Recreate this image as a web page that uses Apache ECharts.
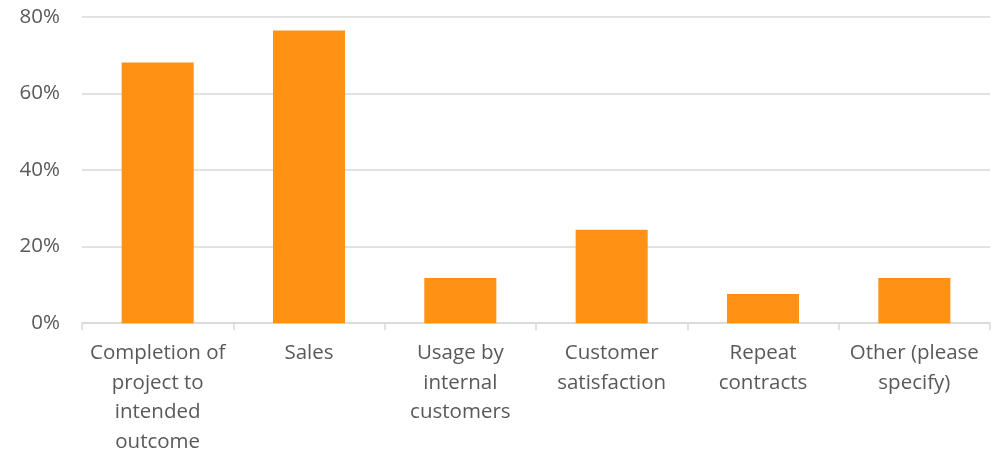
<!DOCTYPE html>
<html>
<head>
<meta charset="utf-8">
<script src="https://cdn.jsdelivr.net/npm/echarts@6/dist/echarts.min.js"></script>
<style>
  html, body { margin: 0; padding: 0; background: #fff; overflow: hidden; }
  #chart { width: 994px; height: 457px; }
</style>
</head>
<body>
<div id="chart"></div>
<script>
// Measures of success, share of respondents
const categories = [
  'Completion of\nproject to\nintended\noutcome',
  'Sales',
  'Usage by\ninternal\ncustomers',
  'Customer\nsatisfaction',
  'Repeat\ncontracts',
  'Other (please\nspecify)'
];
const shares = [68.1, 76.5, 11.8, 24.4, 7.6, 11.8];
const yTicks = [0, 20, 40, 60, 80];

const chart = echarts.init(document.getElementById('chart'), null, { renderer: 'canvas', width: 994, height: 457 });
const font = '"Open Sans", "Liberation Sans", sans-serif';

chart.setOption({
  animation: false,
  grid: { left: 82, right: 4, top: 17, height: 311, containLabel: false },
  xAxis: {
    type: 'category',
    data: categories,
    axisLine: { show: true, lineStyle: { color: '#d9d9d9', width: 1.5 } },
    axisTick: { show: true, length: 7, alignWithLabel: false, lineStyle: { color: '#d9d9d9', width: 1.5 } },
    axisLabel: {
      interval: 0,
      margin: 15,
      color: '#595959',
      fontFamily: font,
      fontSize: 20.5,
      lineHeight: 29.7,
      align: 'center',
      verticalAlign: 'top'
    }
  },
  yAxis: {
    type: 'value',
    min: yTicks[0],
    max: yTicks[yTicks.length - 1],
    interval: 20,
    axisLine: { show: false },
    axisTick: { show: false },
    splitLine: { lineStyle: { color: '#d9d9d9', width: 1.5 } },
    axisLabel: {
      margin: 22,
      color: '#595959',
      fontFamily: font,
      fontSize: 20.5,
      formatter: v => v + '%'
    }
  },
  series: [{
    type: 'bar',
    data: shares,
    barWidth: '47.6%',
    itemStyle: { color: '#ff9115' }
  }]
});
</script>
</body>
</html>
